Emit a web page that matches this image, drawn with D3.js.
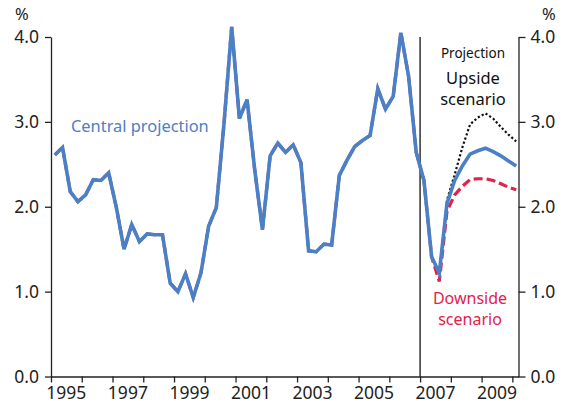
<!DOCTYPE html>
<html>
<head>
<meta charset="utf-8">
<script src="https://cdn.jsdelivr.net/npm/d3@7"></script>
<style>
  body { margin: 0; background: #fff; }
  svg { display: block; font-family: "Noto Sans", sans-serif; }
</style>
</head>
<body>
<div class="chart"></div>
<script>
// Quarterly series, starting 1995 Q1
var startYear = 1995;

// Outturn data, 1995 Q1 to 2007 Q3
var outturn = [2.61, 2.70, 2.18, 2.06, 2.14, 2.32, 2.31, 2.40,
  1.99, 1.50, 1.79, 1.59, 1.68, 1.67, 1.67, 1.10,
  1.00, 1.21, 0.93, 1.22, 1.77, 1.99, 2.98, 4.12,
  3.04, 3.26, 2.43, 1.73, 2.60, 2.75, 2.64, 2.73,
  2.52, 1.48, 1.47, 1.56, 1.55, 2.37, 2.55, 2.71,
  2.78, 2.84, 3.39, 3.15, 3.30, 4.05, 3.54, 2.64,
  2.31, 1.41, 1.22];

// Projections, 2007 Q4 to 2010 Q1
var central = [2.04, 2.31, 2.48, 2.62, 2.66, 2.69, 2.65, 2.60, 2.54, 2.48];
var upside = [2.08, 2.38, 2.70, 2.97, 3.05, 3.10, 3.04, 2.94, 2.85, 2.77];
var downside = [1.95, 2.14, 2.24, 2.32, 2.33, 2.33, 2.31, 2.27, 2.23, 2.20];
var downsideLast = 1.12;  // downside path dips a bit lower at 2007 Q3

var yTicks = [0, 1, 2, 3, 4];
var yearTicks = [1995, 1996, 1997, 1998, 1999, 2000, 2001, 2002, 2003, 2004, 2005, 2006, 2007, 2008, 2009, 2010];
var yearLabels = [1995, 1997, 1999, 2001, 2003, 2005, 2007, 2009];
var projectionStart = 2007;

var svg_width = 564;
var svg_height = 405;

var svg = d3.select(".chart").append("svg")
  .attr("width", svg_width)
  .attr("height", svg_height);

var x = d3.scaleLinear().domain([1995, 2010.2]).range([51, 518.5]);
var y = d3.scaleLinear().domain([0, 4]).range([376.5, 37]);

// turn an index into a quarter mid-point
function qx(i) { return startYear + (i + 0.5) / 4; }

var histPts = outturn.map(function(d, i) { return [qx(i), d]; });
var n = outturn.length;
function proj(arr, first) {
  var pts = [[qx(n - 1), first]];
  arr.forEach(function(d, i) { pts.push([qx(n + i), d]); });
  return pts;
}

var line = d3.line()
  .x(function(d) { return x(d[0]); })
  .y(function(d) { return y(d[1]); });

// Axes
var axisColor = "#222";
var fs = "17.5px";

var left = svg.append("g")
  .attr("transform", "translate(51,0)")
  .call(d3.axisLeft(y).tickValues(yTicks).tickFormat(d3.format(".1f")).tickSize(6).tickPadding(6).tickSizeOuter(0));
var right = svg.append("g")
  .attr("transform", "translate(518.5,0)")
  .call(d3.axisRight(y).tickValues(yTicks).tickFormat(d3.format(".1f")).tickSize(7).tickPadding(5).tickSizeOuter(0));
var bottom = svg.append("g")
  .attr("transform", "translate(0,376.5)")
  .call(d3.axisBottom(x).tickValues(yearTicks).tickFormat("").tickSize(6).tickSizeOuter(0));

[left, right, bottom].forEach(function(g) {
  g.selectAll("path, line").attr("stroke", axisColor).attr("stroke-width", 1.3);
  g.selectAll("text").attr("fill", axisColor).attr("font-size", fs).attr("font-family", "Noto Sans");
});

svg.selectAll("text.year")
  .data(yearLabels)
  .enter()
  .append("text")
  .attr("class", "year")
  .text(function(d) { return d; })
  .attr("x", function(d) { return x(d + 0.5); })
  .attr("y", 399)
  .attr("text-anchor", "middle")
  .attr("font-size", fs)
  .attr("fill", axisColor);

svg.append("text").text("%").attr("x", 15).attr("y", 20)
  .attr("font-size", "16.5px").attr("fill", axisColor);
svg.append("text").text("%").attr("x", 542).attr("y", 20)
  .attr("font-size", "16.5px").attr("fill", axisColor);

// Projection divider
svg.append("line")
  .attr("x1", x(projectionStart)).attr("x2", x(projectionStart))
  .attr("y1", y(4)).attr("y2", y(0))
  .attr("stroke", "#111").attr("stroke-width", 1.3);

// Lines
var red = "#e0224c";
var blue = "#4a80c6";

svg.append("path")
  .datum(histPts.slice(0, n - 1).concat(proj(downside, downsideLast)))
  .attr("d", line)
  .attr("fill", "none")
  .attr("stroke", red)
  .attr("stroke-width", 3.2)
  .attr("stroke-dasharray", "9,4");

svg.append("path")
  .datum(proj(upside, outturn[n - 1]))
  .attr("d", line)
  .attr("fill", "none")
  .attr("stroke", "#111")
  .attr("stroke-width", 2.2)
  .attr("stroke-dasharray", "2.2,2.2");

svg.append("path")
  .datum(histPts.concat(proj(central, outturn[n - 1]).slice(1)))
  .attr("d", line)
  .attr("fill", "none")
  .attr("stroke", blue)
  .attr("stroke-width", 3.6)
  .attr("stroke-linejoin", "miter");

// Labels
svg.append("text").text("Central projection")
  .attr("x", 71).attr("y", 132)
  .attr("font-size", "16.4px").attr("fill", blue);

svg.append("text").text("Projection")
  .attr("x", 473).attr("y", 58)
  .attr("text-anchor", "middle")
  .attr("font-size", "13.5px").attr("fill", "#111");

function twoLines(lines, cx, cy, size, color) {
  var t = svg.append("text")
    .attr("x", cx).attr("y", cy)
    .attr("text-anchor", "middle")
    .attr("font-size", size).attr("fill", color);
  t.selectAll("tspan")
    .data(lines)
    .enter()
    .append("tspan")
    .attr("x", cx)
    .attr("dy", function(d, i) { return i === 0 ? 0 : 21; })
    .text(function(d) { return d; });
}

twoLines(["Upside", "scenario"], 473, 84, "16.5px", "#111");
twoLines(["Downside", "scenario"], 470, 304, "16px", red);
</script>
</body>
</html>
